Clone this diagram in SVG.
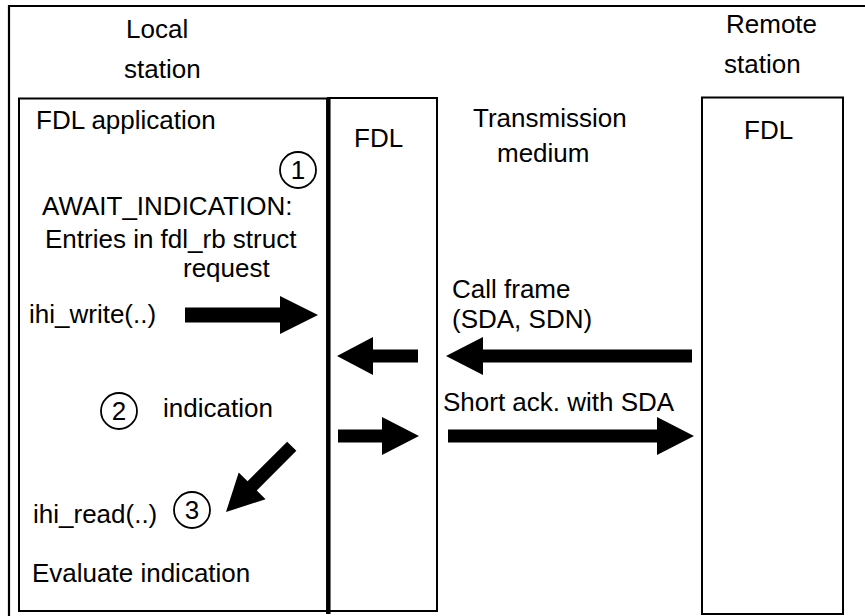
<svg xmlns="http://www.w3.org/2000/svg" width="865" height="616" viewBox="0 0 865 616">
<style>
text{font-family:"Liberation Sans",Arial,sans-serif;font-size:26px;fill:#000}
.box{fill:none;stroke:#000;stroke-width:2}
.num{fill:none;stroke:#000;stroke-width:1.8}
.c{text-anchor:middle}
.arr{fill:#000;stroke:none}
</style>
<rect width="865" height="616" fill="#fff"/>
<polyline points="9,616 9,6 865,6" fill="none" stroke="#000" stroke-width="2.2"/>
<g id="local-station">
<text x="126" y="38">Local</text>
<text x="124" y="78">station</text>
</g>
<g id="remote-station">
<text x="726" y="33">Remote</text>
<text x="724" y="73">station</text>
</g>
<g id="fdl-application">
<rect class="box" x="19" y="98.5" width="309" height="512.5"/>
<text x="36" y="129">FDL application</text>
<circle class="num" cx="298" cy="170" r="18"/>
<text class="c" x="298" y="179">1</text>
<text x="42" y="215">AWAIT_INDICATION:</text>
<text x="45" y="248">Entries in fdl_rb struct</text>
<text x="183" y="277">request</text>
<text x="29" y="323">ihi_write(..)</text>
<circle class="num" cx="119" cy="411" r="18"/>
<text class="c" x="119" y="420">2</text>
<text x="163" y="417">indication</text>
<text x="33" y="523">ihi_read(..)</text>
<circle class="num" cx="192" cy="510" r="18"/>
<text class="c" x="192" y="519">3</text>
<text x="32" y="582">Evaluate indication</text>
</g>
<g id="local-fdl">
<rect class="box" x="328" y="98" width="109" height="513"/>
<text x="354" y="147">FDL</text>
</g>
<line x1="328.3" y1="98" x2="328.3" y2="614" stroke="#000" stroke-width="4.5"/>
<g id="transmission-medium">
<text x="473" y="127">Transmission</text>
<text x="497" y="162">medium</text>
</g>
<g id="remote-fdl">
<rect class="box" x="702" y="97.5" width="141" height="516.5"/>
<text x="744" y="139">FDL</text>
</g>
<g id="connectors">
<polygon class="arr" points="185,307.5 280,307.5 280,296 318,315 280,334 280,322.5 185,322.5"/>
<polygon class="arr" points="337,356 373,337 373,349.5 418,349.5 418,362.5 373,362.5 373,375"/>
<polygon class="arr" points="446,356 483,337 483,349.5 692,349.5 692,362.5 483,362.5 483,375"/>
<text x="452" y="298">Call frame</text>
<text x="452" y="328">(SDA, SDN)</text>
<polygon class="arr" points="338,429.5 382,429.5 382,417 419,436 382,455 382,442.5 338,442.5"/>
<polygon class="arr" points="448,429.5 657,429.5 657,417 694,436 657,455 657,442.5 448,442.5"/>
<text x="443" y="411">Short ack. with SDA</text>
<polygon class="arr" transform="translate(226,512) rotate(-45)" points="0,0 37,-19 37,-6.5 93,-6.5 93,6.5 37,6.5 37,19"/>
</g>
</svg>
